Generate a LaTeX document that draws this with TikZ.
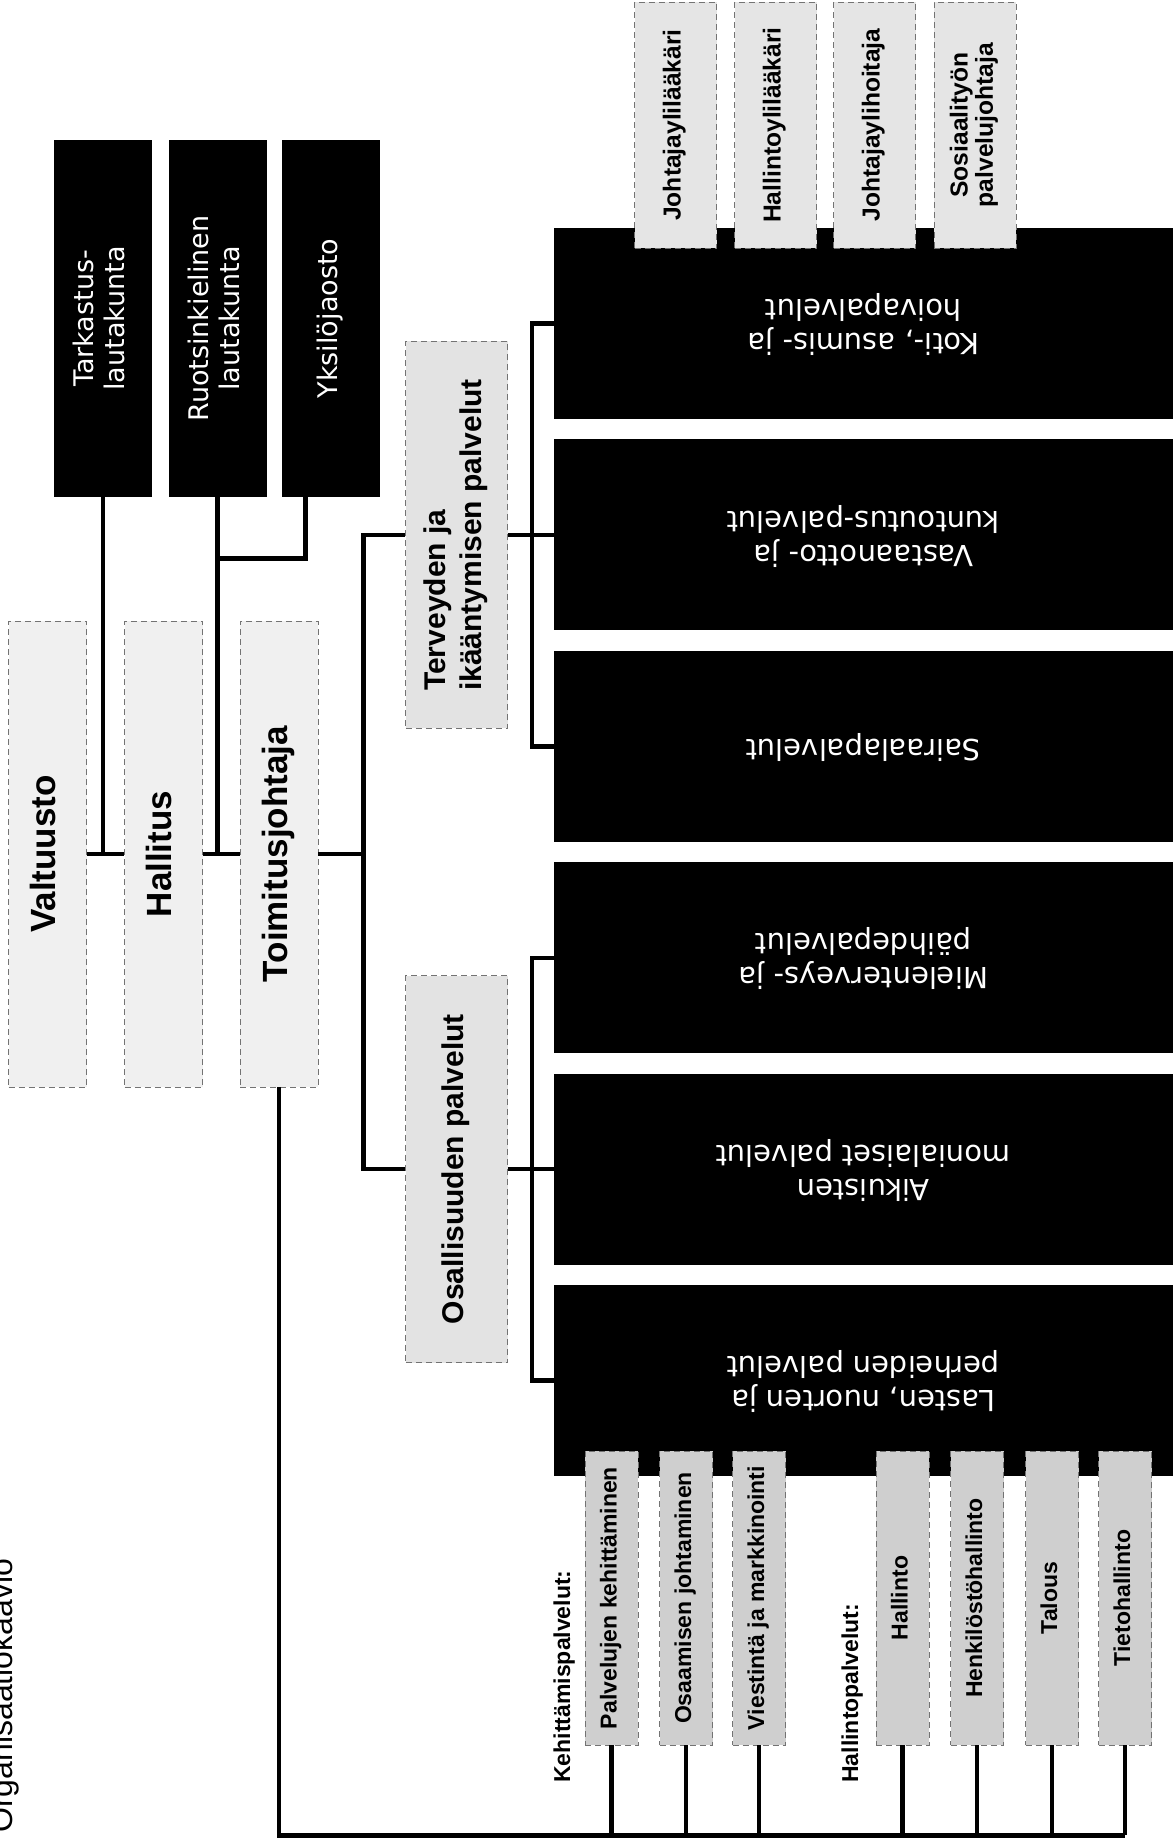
\documentclass[tikz,border=0pt]{standalone}
\usepackage{fontspec}
\setmainfont{Liberation Sans}
\newfontfamily\whitefont{DejaVu Sans}
\usetikzlibrary{calc, positioning}
\newcommand{\uptext}[2][c]{\rotatebox{90}{\begin{tabular}{@{}#1@{}}#2\end{tabular}}}
\newcommand{\fliptext}[1]{\rotatebox{180}{\begin{tabular}{@{}c@{}}#1\end{tabular}}}

\begin{document}
\begin{tikzpicture}[x=0.5pt, y=-0.5pt,
  conn/.style={line width=2.2pt},
  lead/.style={draw=black!55, densely dashed, line width=0.4pt, fill=gray!12, inner sep=0pt,
    minimum width=39pt, minimum height=233pt, font=\fontsize{17.5}{21}\selectfont\bfseries},
  board/.style={fill=black, text=white, inner sep=0pt, minimum width=49pt, minimum height=178.5pt,
    font=\whitefont\fontsize{13.5}{15.5}\selectfont},
  branch/.style={draw=black!55, densely dashed, line width=0.4pt, fill=gray!22, inner sep=0pt,
    minimum width=51pt, minimum height=193.5pt, font=\fontsize{15}{18}\selectfont\bfseries},
  unit/.style={fill=black, text=white, inner sep=0pt, minimum width=309.5pt, minimum height=95.5pt,
    font=\whitefont\fontsize{14.5}{17}\selectfont},
  staff/.style={draw=black!55, densely dashed, line width=0.4pt, fill=gray!20, inner sep=0pt,
    minimum width=41pt, minimum height=123pt, font=\fontsize{12.3}{12.5}\selectfont\bfseries},
  support/.style={draw=black!55, densely dashed, line width=0.4pt, fill=gray!38, inner sep=0pt,
    minimum width=26.5pt, minimum height=147pt, font=\fontsize{11.5}{13}\selectfont\bfseries},
  caption/.style={rotate=90, anchor=base west, inner sep=0pt, font=\fontsize{11.5}{13}\selectfont\bfseries}
]
\useasboundingbox (0,0) rectangle (1174,1843);

\node[rotate=90, anchor=base west, inner sep=0pt, font=\fontsize{16}{19}\selectfont] (otsikko) at (12,1833) {Organisaatiokaavio};

\node[lead] (valtuusto) at (47.5,854) {\uptext{Valtuusto}};
\node[lead] (hallitus) at (163.5,854) {\uptext{Hallitus}};
\node[lead] (toimitus) at (279,854) {\uptext{Toimitusjohtaja}};

\node[board] (tarkastus) at (103,318.5) {\uptext{Tarkastus-\\lautakunta}};
\node[board] (ruotsi) at (217.5,318.5) {\uptext{Ruotsinkielinen\\lautakunta}};
\node[board] (yksilo) at (331,318.5) {\uptext{Yksilöjaosto}};

\node[branch] (terveys) at (456.75,534.9) {\uptext[l]{Terveyden ja\\ikääntymisen palvelut}};
\node[branch] (osallisuus) at (456.75,1169.1) {\uptext{Osallisuuden palvelut}};

\node[unit] (koti) at (863.5,323.5) {\fliptext{Koti-, asumis- ja\\hoivapalvelut}};
\node[unit] (vastaanotto) at (863.5,534.9) {\fliptext{Vastaanotto- ja\\kuntoutus-palvelut}};
\node[unit] (sairaala) at (863.5,746.3) {\fliptext{Sairaalapalvelut}};
\node[unit] (mieli) at (863.5,957.7) {\fliptext{Mielenterveys- ja\\päihdepalvelut}};
\node[unit] (aikuiset) at (863.5,1169.1) {\fliptext{Aikuisten\\monialaiset palvelut}};
\node[unit] (lapset) at (863.5,1380.5) {\fliptext{Lasten, nuorten ja\\perheiden palvelut}};

\node[staff] (jyl) at (675.5,125) {\uptext{Johtajaylilääkäri}};
\node[staff] (hyl) at (775.5,125) {\uptext{Hallintoylilääkäri}};
\node[staff] (jyh) at (874.5,125) {\uptext{Johtajaylihoitaja}};
\node[staff] (sosjoht) at (975,125) {\uptext{Sosiaalityön\\palvelujohtaja}};

\foreach \i/\x/\t in {1/611.5/Palvelujen kehittäminen, 2/686/Osaamisen johtaminen,
    3/759/Viestintä ja markkinointi, 4/902.5/Hallinto, 5/977/Henkilöstöhallinto,
    6/1052/Talous, 7/1125/Tietohallinto}
  \node[support] (tuki\i) at (\x,1598) {\uptext{\t}};

\node[caption] (kehitys) at (570,1783) {Kehittämispalvelut:};
\node[caption] (hallinto) at (858,1783) {Hallintopalvelut:};

% johto
\draw[conn] (valtuusto.east) -- (hallitus.west) (hallitus.east) -- (toimitus.west);
\draw[conn] (tarkastus.south) -- (tarkastus.south |- valtuusto.east);
\draw[conn] (ruotsi.south) -- (ruotsi.south |- hallitus.east);
\draw[conn] (yksilo.south west) ++(24,0) |- ($(ruotsi.south)+(0,61)$);

\coordinate (runko) at ($(toimitus.east)+(45,0)$);
\draw[conn] (toimitus.east) -- (runko);
\draw[conn] (terveys.west) -| (runko) |- (osallisuus.west);

\draw[conn] (koti.west) -| ($(terveys.east)+(24,0)$) |- (sairaala.west);
\draw[conn] (terveys.east) -- (vastaanotto.west);
\draw[conn] (mieli.west) -| ($(osallisuus.east)+(24,0)$) |- (lapset.west);
\draw[conn] (osallisuus.east) -- (aikuiset.west);

\coordinate (pohja) at ($(toimitus.south)+(0,748)$);
\draw[conn] (toimitus.south) -- (pohja) -- (pohja -| tuki7.south);
\foreach \i in {1,...,7}
  \draw[conn] (tuki\i.south) -- (tuki\i.south |- pohja);
\end{tikzpicture}
\end{document}
